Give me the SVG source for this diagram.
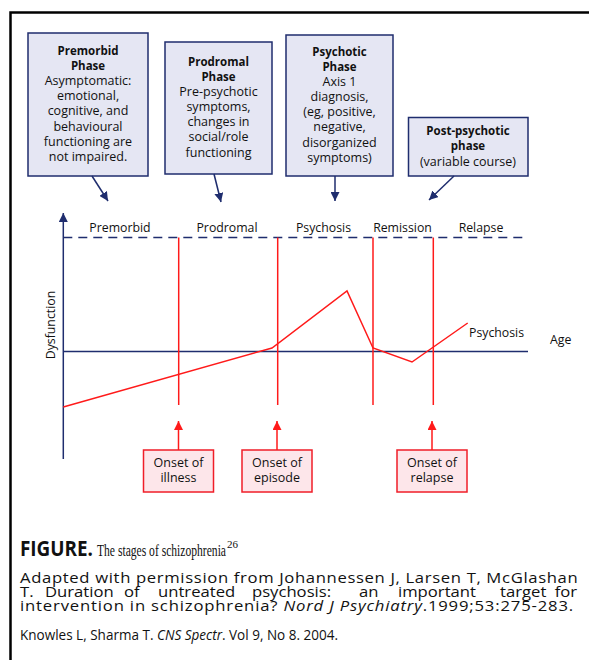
<svg xmlns="http://www.w3.org/2000/svg" width="589" height="660" viewBox="0 0 589 660">
<style>
.box{fill:#e5e6f3;stroke:#1f2d6e;stroke-width:1.5}
.obox{fill:#fde6ea;stroke:#f01e28;stroke-width:1.5}
.t{font-family:"Open Sans","DejaVu Sans",sans-serif;font-size:12.5px;fill:#111;text-anchor:middle}
.b{font-weight:bold;font-size:11.5px}
.lbl{font-family:"Open Sans","DejaVu Sans",sans-serif;font-size:12.3px;fill:#111}
.nav{stroke:#1f2d6e;stroke-width:1.5;fill:none}
.red{stroke:#ff1a1a;stroke-width:1.5;fill:none}
.body{font-family:"Open Sans","DejaVu Sans",sans-serif;font-size:14.5px;fill:#111}
</style>
<defs>
<marker id="ah" viewBox="0 0 10 10" refX="10" refY="5" markerWidth="9" markerHeight="9" markerUnits="userSpaceOnUse" orient="auto"><path d="M0,0 L10,5 L0,10 z" fill="#1f2d6e"/></marker>
<marker id="rh" viewBox="0 0 10 10" refX="10" refY="5" markerWidth="9" markerHeight="9" markerUnits="userSpaceOnUse" orient="auto"><path d="M0,0 L10,5 L0,10 z" fill="#ff1a1a"/></marker>
</defs>
<rect width="589" height="660" fill="#fff"/>
<path d="M10.5,660 V12.5 H589" fill="none" stroke="#000" stroke-width="2.5"/>

<g id="premorbid-box">
<rect class="box" x="28" y="33" width="120" height="143"/>
<text class="t" x="88" y="55"><tspan class="b">Premorbid</tspan><tspan class="b" x="88" dy="14.5">Phase</tspan><tspan x="88" dy="15.5">Asymptomatic:</tspan><tspan x="88" dy="15">emotional,</tspan><tspan x="88" dy="15">cognitive, and</tspan><tspan x="88" dy="15.5">behavioural</tspan><tspan x="88" dy="15">functioning are</tspan><tspan x="88" dy="15">not impaired.</tspan></text>
</g>
<g id="prodromal-box">
<rect class="box" x="165" y="42" width="107" height="132"/>
<text class="t" x="218.5" y="66"><tspan class="b">Prodromal</tspan><tspan class="b" x="218.5" dy="15">Phase</tspan><tspan x="218.5" dy="15.3">Pre-psychotic</tspan><tspan x="218.5" dy="15">symptoms,</tspan><tspan x="218.5" dy="15">changes in</tspan><tspan x="218.5" dy="15">social/role</tspan><tspan x="218.5" dy="15.5">functioning</tspan></text>
</g>
<g id="psychotic-box">
<rect class="box" x="286" y="35" width="107" height="141"/>
<text class="t" x="339.5" y="56"><tspan class="b">Psychotic</tspan><tspan class="b" x="339.5" dy="15">Phase</tspan><tspan x="339.5" dy="14.8">Axis 1</tspan><tspan x="339.5" dy="15.3">diagnosis,</tspan><tspan x="339.5" dy="15.3">(eg, positive,</tspan><tspan x="339.5" dy="14.7">negative,</tspan><tspan x="339.5" dy="16">disorganized</tspan><tspan x="339.5" dy="14.6">symptoms)</tspan></text>
</g>
<g id="postpsychotic-box">
<rect class="box" x="408.5" y="117.5" width="119.5" height="58.5"/>
<text class="t" x="468" y="135"><tspan class="b">Post-psychotic</tspan><tspan class="b" x="468" dy="15">phase</tspan><tspan x="468" dy="15.7">(variable course)</tspan></text>
</g>

<g id="onset-illness">
<rect class="obox" x="143.5" y="450" width="70" height="42"/>
<text class="t" x="178.5" y="467">Onset of<tspan x="178.5" dy="15">illness</tspan></text>
</g>
<g id="onset-episode">
<rect class="obox" x="242" y="450" width="70" height="42"/>
<text class="t" x="277" y="467">Onset of<tspan x="277" dy="15">episode</tspan></text>
</g>
<g id="onset-relapse">
<rect class="obox" x="397" y="450" width="70" height="42"/>
<text class="t" x="432" y="467">Onset of<tspan x="432" dy="15">relapse</tspan></text>
</g>

<g id="chart">
<line class="nav" x1="63.3" y1="459" x2="63.3" y2="213" marker-end="url(#ah)"/>
<line class="nav" x1="63.3" y1="351.5" x2="528" y2="351.5"/>
<line class="nav" x1="63.3" y1="237.5" x2="528" y2="237.5" stroke-dasharray="9,6"/>
<line class="red" x1="178.7" y1="237.5" x2="178.7" y2="405"/>
<line class="red" x1="277.7" y1="237.5" x2="277.7" y2="405"/>
<line class="red" x1="373" y1="237.5" x2="373" y2="405"/>
<line class="red" x1="433.3" y1="237.5" x2="433.3" y2="405"/>
<polyline class="red" points="63.3,407 272,348 347,291 373,348 412,362 467.7,323"/>
<text class="lbl" x="120" y="232" text-anchor="middle">Premorbid</text>
<text class="lbl" x="227" y="232" text-anchor="middle">Prodromal</text>
<text class="lbl" x="323.5" y="232" text-anchor="middle">Psychosis</text>
<text class="lbl" x="402.5" y="232" text-anchor="middle">Remission</text>
<text class="lbl" x="481" y="232" text-anchor="middle">Relapse</text>
<text class="lbl" x="469" y="336.5">Psychosis</text>
<text class="lbl" x="550" y="344">Age</text>
<text class="lbl" x="55" y="325" text-anchor="middle" transform="rotate(-90 55 325)">Dysfunction</text>
</g>

<g id="connectors">
<line class="nav" x1="92" y1="176" x2="108" y2="201" marker-end="url(#ah)"/>
<line class="nav" x1="214" y1="174" x2="221" y2="202" marker-end="url(#ah)"/>
<line class="nav" x1="335" y1="176" x2="335" y2="201" marker-end="url(#ah)"/>
<line class="nav" x1="454" y1="176" x2="429" y2="200" marker-end="url(#ah)"/>
<line class="red" x1="178.5" y1="450" x2="178.5" y2="421" marker-end="url(#rh)"/>
<line class="red" x1="277" y1="450" x2="277" y2="421" marker-end="url(#rh)"/>
<line class="red" x1="432" y1="450" x2="432" y2="421" marker-end="url(#rh)"/>
</g>

<g id="caption">
<text x="20" y="556" font-family="'Open Sans','DejaVu Sans',sans-serif" font-weight="bold" font-size="22" fill="#111" textLength="73" lengthAdjust="spacingAndGlyphs">FIGURE.</text>
<text x="97" y="556" font-family="'Liberation Serif','DejaVu Serif',serif" font-size="17" fill="#111" textLength="129" lengthAdjust="spacingAndGlyphs">The stages of schizophrenia</text>
<text x="227" y="548" font-family="'Liberation Serif','DejaVu Serif',serif" font-size="11" fill="#111">26</text>
<g transform="translate(20,0) scale(1.15,1)">
<text class="body" x="0" y="583.5" textLength="485" lengthAdjust="spacing">Adapted with permission from Johannessen J, Larsen T, McGlashan</text>
<text class="body" y="597.5"><tspan x="0">T.</tspan> <tspan x="21.7">Duration</tspan> <tspan x="90.4">of</tspan> <tspan x="120">untreated</tspan> <tspan x="201.7">psychosis:</tspan> <tspan x="294.8">an</tspan> <tspan x="328.7">important</tspan> <tspan x="417.4">target</tspan> <tspan x="465">for</tspan></text>
<text class="body" x="0" y="611.5" textLength="481" lengthAdjust="spacing">intervention in schizophrenia? <tspan font-style="italic">Nord J Psychiatry</tspan>.1999;53:275-283.</text>
</g>
<text class="body" x="20" y="640" textLength="318" lengthAdjust="spacingAndGlyphs">Knowles L, Sharma T. <tspan font-style="italic">CNS Spectr</tspan>. Vol 9, No 8. 2004.</text>
</g>
</svg>
